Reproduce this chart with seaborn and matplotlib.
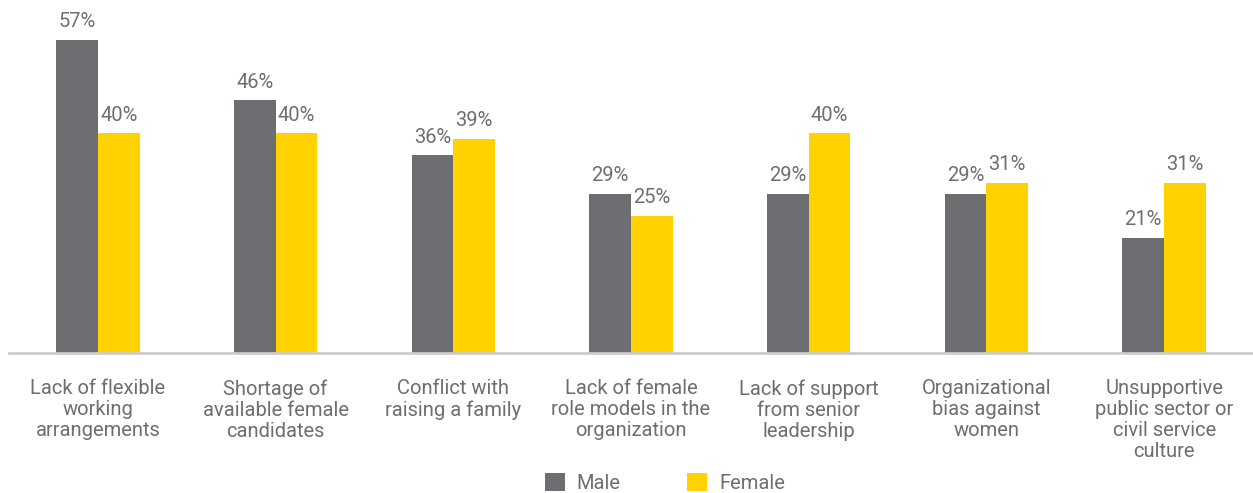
import pandas as pd
import numpy as np
import matplotlib.pyplot as plt
import seaborn as sns
from matplotlib.patches import Patch

# Chart data
categories = [
    "Lack of flexible\nworking\narrangements",
    "Shortage of\navailable female\ncandidates",
    "Conflict with\nraising a family",
    "Lack of female\nrole models in the\norganization",
    "Lack of support\nfrom senior\nleadership",
    "Organizational\nbias against\nwomen",
    "Unsupportive\npublic sector or\ncivil service\nculture",
]
male = [57, 46, 36, 29, 29, 29, 21]
female = [40, 40, 39, 25, 40, 31, 31]
groups = ["Male", "Female"]

GREY = "#6d6e71"
YELLOW = "#ffd200"
TEXT = "#6d6e71"

# Build long table for seaborn
df = pd.DataFrame({
    "category": categories * 2,
    "value": male + female,
    "group": ["Male"] * len(categories) + ["Female"] * len(categories),
})

sns.set_theme(style="white")
plt.rcParams["font.family"] = ["Roboto", "DejaVu Sans"]

fig = plt.figure(figsize=(12.53, 4.93), dpi=100)
ax = fig.add_axes([9 / 1253, 140 / 493, 1 - 9 / 1253, 353 / 493])

sns.barplot(data=df, x="category", y="value", hue="group", order=categories,
            hue_order=groups, palette=[GREY, YELLOW], width=0.47, gap=0,
            saturation=1, legend=False, linewidth=0, ax=ax)

for container in ax.containers:
    ax.bar_label(container, labels=[f"{int(v)}%" for v in container.datavalues],
                 padding=6, fontsize=14.5, color=TEXT)

ax.set_xlim(-0.5, 6.5)
ax.set_ylim(0, 64.2)
ax.set_xlabel("")
ax.set_ylabel("")
ax.set_yticks([])
ax.tick_params(axis="x", length=0, pad=19, labelsize=14.5, labelcolor=TEXT)
for lbl in ax.get_xticklabels():
    lbl.set_linespacing(1.13)
    lbl.set_verticalalignment("top")

for side in ["top", "right", "left"]:
    ax.spines[side].set_visible(False)
ax.spines["bottom"].set_color("#cccccc")
ax.spines["bottom"].set_linewidth(2)

handles = [Patch(facecolor=GREY, edgecolor="none"), Patch(facecolor=YELLOW, edgecolor="none")]
fig.legend(handles, groups, loc="center", bbox_to_anchor=(665 / 1253, 1 - 483 / 493),
           ncol=2, frameon=False, fontsize=14.5, labelcolor=TEXT,
           handlelength=1.0, handleheight=1.0, handletextpad=0.6, columnspacing=3.3)

fig.savefig("out.png", dpi=100)
